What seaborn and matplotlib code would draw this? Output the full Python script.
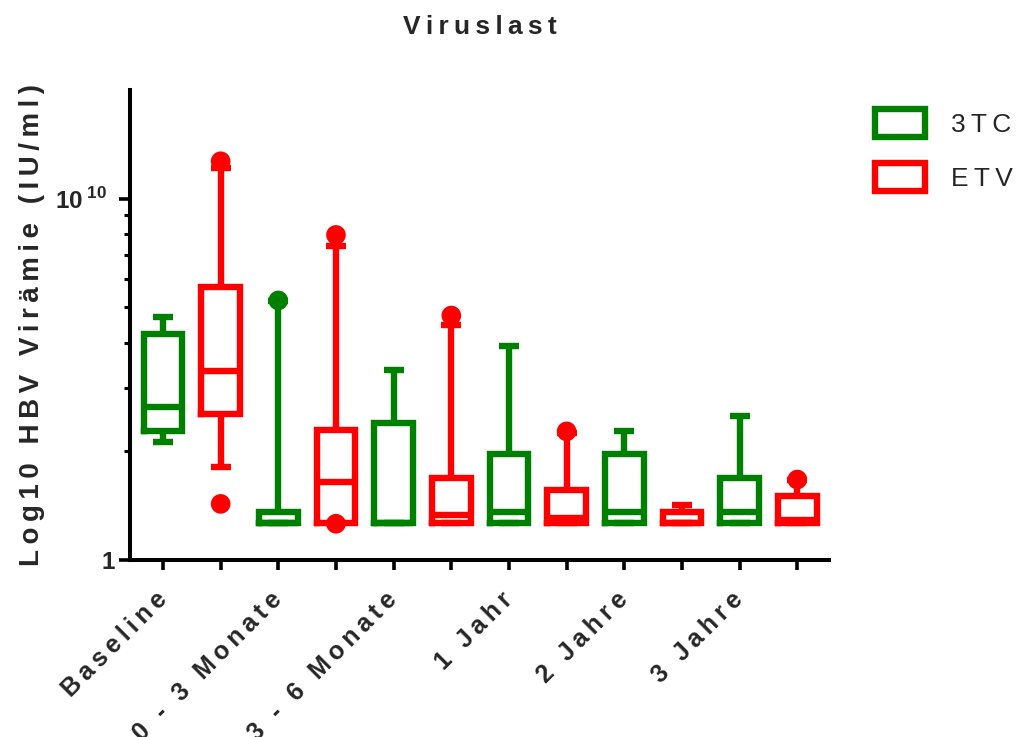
import matplotlib
matplotlib.use("Agg")
import matplotlib.pyplot as plt
import numpy as np
import pandas as pd
import seaborn as sns
from matplotlib.patches import Patch
from matplotlib.ticker import FixedLocator, NullFormatter

# ---- data: log10 HBV viraemia, summary statistics per visit ----
groups = ["Baseline", "0 - 3 Monate", "3 - 6 Monate", "1 Jahr", "2 Jahre", "3 Jahre"]
series = ["3TC", "ETV"]

tc_lo = [2.12, 1.27, 1.27, 1.27, 1.27, 1.27]
tc_q1 = [2.28, 1.27, 1.27, 1.27, 1.27, 1.27]
tc_med = [2.65, 1.27, 1.27, 1.36, 1.36, 1.36]
tc_q3 = [4.21, 1.36, 2.39, 1.97, 1.96, 1.69]
tc_hi = [4.70, 5.20, 3.35, 3.92, 2.27, 2.50]
tc_out = [[], [5.23], [], [], [], []]

etv_lo = [1.81, 1.27, 1.27, 1.27, 1.27, 1.27]
etv_q1 = [2.53, 1.27, 1.27, 1.27, 1.27, 1.27]
etv_med = [3.33, 1.645, 1.33, 1.31, 1.27, 1.29]
etv_q3 = [5.69, 2.29, 1.69, 1.56, 1.36, 1.50]
etv_hi = [12.2, 7.41, 4.48, 2.24, 1.42, 1.66]
etv_out = [[12.7, 1.43], [7.94, 1.26], [4.75], [2.27], [], [1.67]]

colors = {"3TC": "#008000", "ETV": "#ff0000"}


def spaced(text, gap="\u2009"):
    """Letter-spaced label text."""
    return gap.join(text)


sns.set_theme(style="ticks")
plt.rcParams["font.family"] = ["Liberation Sans", "DejaVu Sans"]
plt.rcParams["mathtext.fontset"] = "custom"
plt.rcParams["mathtext.bf"] = "Liberation Sans:bold"
plt.rcParams["mathtext.rm"] = "Liberation Sans"

W, H = 1021, 737
fig = plt.figure(figsize=(W / 100, H / 100), dpi=100)
ax = fig.add_axes([130 / W, (H - 560) / H, (829 - 130) / W, (560 - 90) / H])

LW = 4.6
box_data = {
    "3TC": (tc_lo, tc_q1, tc_med, tc_q3, tc_hi, tc_out),
    "ETV": (etv_lo, etv_q1, etv_med, etv_q3, etv_hi, etv_out),
}

flier_rows = []
for k, name in enumerate(series):
    lo, q1, med, q3, hi, out = box_data[name]
    stats = [
        dict(whislo=a, q1=b, med=c, q3=d, whishi=e, fliers=[])
        for a, b, c, d, e in zip(lo, q1, med, q3, hi)
    ]
    pos = [2 * i + k for i in range(len(groups))]
    col = colors[name]
    box_line = dict(color=col, linewidth=LW, solid_capstyle="projecting",
                    solid_joinstyle="miter")
    seg_line = dict(color=col, linewidth=LW, solid_capstyle="butt")
    ax.bxp(stats, positions=pos, widths=0.67, capwidths=0.35,
           showfliers=False, boxprops=box_line, whiskerprops=seg_line,
           capprops=seg_line, medianprops=seg_line, manage_ticks=False)
    for p, vals in zip(pos, out):
        for v in vals:
            flier_rows.append({"pos": p, "value": v, "series": name})

fliers = pd.DataFrame(flier_rows)
sns.scatterplot(data=fliers, x="pos", y="value", hue="series", palette=colors,
                s=200, linewidth=0, legend=False, ax=ax, zorder=4)

# ---- axes ----
ax.set_yscale("log")
ax.set_ylim(1, 20)
ax.set_xlim(-0.572, 11.55)
ax.set_xlabel("")
ax.set_ylabel(spaced("Log10 HBV Virämie (IU/ml)"), fontsize=20,
              fontweight="bold", labelpad=7)

ax.set_yticks([1, 10])
ax.set_yticklabels(["1", r"$\mathbf{10}^{\;\mathbf{10}}$" + "  "])
ax.yaxis.set_minor_locator(FixedLocator([2, 3, 4, 5, 6, 7, 8, 9]))
ax.yaxis.set_minor_formatter(NullFormatter())

ax.set_xticks(range(2 * len(groups)))
xlabels = []
for g in groups:
    xlabels += [spaced(g), ""]
ax.set_xticklabels(xlabels, rotation=45, ha="right", va="center",
                   rotation_mode="anchor", fontsize=18, fontweight="bold")

for t in ax.get_yticklabels():
    t.set_fontsize(17.5)
    t.set_fontweight("bold")

ax.tick_params(axis="x", which="major", length=7, width=2.6, pad=19,
               color="black")
ax.tick_params(axis="y", which="major", length=8, width=2.6, pad=3,
               color="black")
ax.tick_params(axis="y", which="minor", length=4.5, width=2.2, color="black")

sns.despine(ax=ax)
for side in ("left", "bottom"):
    ax.spines[side].set_linewidth(2.9)
    ax.spines[side].set_color("black")
ax.set_facecolor("white")
ax.grid(False)

fig.text((130 + 829) / 2 / W, 1 - 27 / H, spaced("Viruslast"), ha="center",
         va="center", fontsize=19, fontweight="bold")

handles = [Patch(facecolor="white", edgecolor=colors[s], linewidth=LW,
                 joinstyle="miter") for s in series]
fig.legend(handles, [spaced(s) for s in series], loc="upper left",
           bbox_to_anchor=(875 / W, 1 - 109 / H), frameon=False,
           fontsize=19, handlelength=1.88, handleheight=1.25,
           handletextpad=1.0, labelspacing=1.0, borderpad=0,
           borderaxespad=0)

fig.savefig("out.png", dpi=100, facecolor="white")
